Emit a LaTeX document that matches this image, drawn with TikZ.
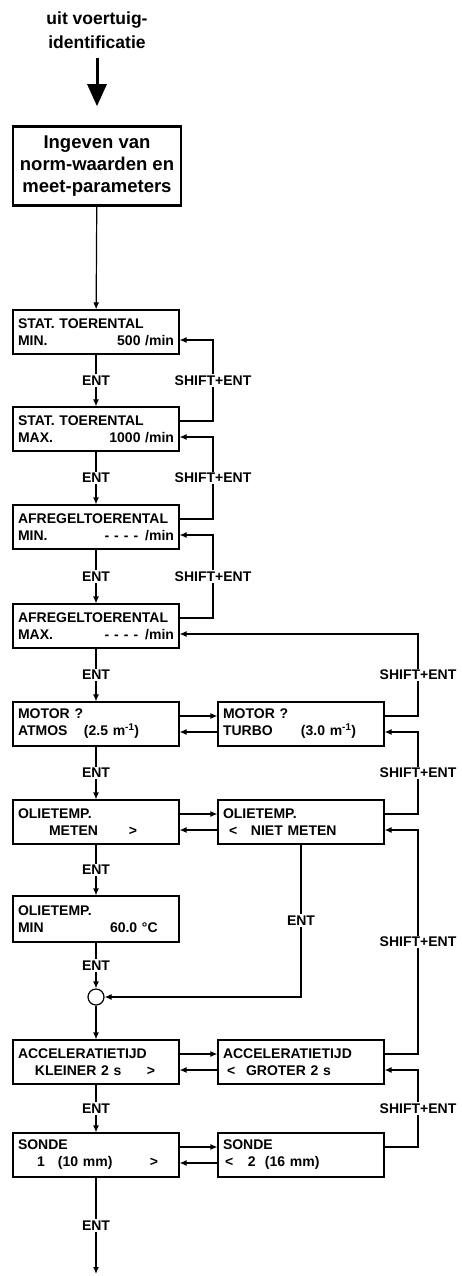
\documentclass[tikz,border=0pt]{standalone}
\usepackage{fontspec}
\setmainfont{Liberation Sans}
\usetikzlibrary{arrows.meta}

\begin{document}
\begin{tikzpicture}[x=1pt,y=-1pt,line width=1.2pt,>={Latex[length=7pt,width=6pt]},
  font=\fontsize{14}{17}\selectfont\bfseries,
  scherm/.style={draw,minimum width=166pt,minimum height=44pt,text width=156pt,
    inner xsep=5pt,align=left},
  etiket/.style={fill=white,inner sep=1.5pt}]
\useasboundingbox (0,0) rectangle (462,1276);
\def\xl{96}
\def\xr{301}
\def\streep{-\hspace{5pt}-\hspace{5pt}-\hspace{5pt}-\hspace{7pt}/min}
% kop en invoer
\node[align=center,font=\fontsize{17.5}{24}\selectfont\bfseries] (bron) at (97,30)
  {uit voertuig-\\identificatie};
\node[draw,line width=2.6pt,minimum width=168pt,minimum height=79pt,align=center,
  font=\fontsize{18.5}{22}\selectfont\bfseries] (invoer) at (97,166)
  {Ingeven van\\norm-waarden en\\meet-parameters};
\draw[line width=3pt,-{Triangle[length=22pt,width=19pt]},shorten <=6pt,shorten >=19pt]
  (bron) -- (invoer);
% linker kolom
\node[scherm] (statmin) at (\xl,332) {STAT. TOERENTAL\\MIN.\hfill 500 /min\hspace*{3pt}};
\node[scherm] (statmax) at (\xl,429) {STAT. TOERENTAL\\MAX.\hfill 1000 /min\hspace*{3pt}};
\node[scherm] (afrmin) at (\xl,527) {AFREGELTOERENTAL\\MIN.\hfill \streep};
\node[scherm] (afrmax) at (\xl,626) {AFREGELTOERENTAL\\MAX.\hfill \streep};
\node[scherm] (motor1) at (\xl,724) {MOTOR ?\\\makebox[66pt][l]{ATMOS}(2.5 m\textsuperscript{-1})};
\node[scherm] (olie1) at (\xl,822) {OLIETEMP.\\\hspace*{31pt}\makebox[80pt][l]{METEN}>};
\node[scherm,minimum height=46pt] (oliemin) at (\xl,919) {OLIETEMP.\\\makebox[92pt][l]{MIN}60.0 °C};
\node[draw,circle,minimum size=16pt,inner sep=0pt] (knoop) at (\xl,997) {};
\node[scherm] (accel1) at (\xl,1062) {ACCELERATIETIJD\\\hspace*{17pt}\makebox[112pt][l]{KLEINER 2 s}>};
\node[scherm] (sonde1) at (\xl,1155) {SONDE\\\hspace*{19pt}\makebox[21pt][l]{1}\makebox[92pt][l]{(10 mm)}>};
\coordinate (einde) at (\xl,1274);
% rechter kolom
\node[scherm] (motor2) at (\xr,724) {MOTOR ?\\\makebox[78pt][l]{TURBO}(3.0 m\textsuperscript{-1})};
\node[scherm] (olie2) at (\xr,822) {OLIETEMP.\\\hspace*{6pt}\makebox[22pt][l]{<}NIET METEN};
\node[scherm] (accel2) at (\xr,1062) {ACCELERATIETIJD\\\hspace*{4pt}\makebox[19pt][l]{<}GROTER 2 s};
\node[scherm] (sonde2) at (\xr,1155) {SONDE\\\hspace*{2pt}\makebox[23pt][l]{<}\makebox[17pt][l]{2}(16 mm)};
% terugloop lijnen
\coordinate (terug1) at (213,0);
\coordinate (terug2) at (418,0);
% ENT naar beneden
\draw[->] (invoer) -- (statmin);
\foreach \a/\b in {statmin/statmax,statmax/afrmin,afrmin/afrmax,afrmax/motor1,
  motor1/olie1,olie1/oliemin,oliemin/knoop,accel1/sonde1}
  \draw[->] (\a) -- node[etiket]{ENT} (\b);
\draw[->] (knoop) -- (accel1);
\draw[->] (sonde1) -- node[etiket]{ENT} (einde);
\draw[->] (olie2) |- node[pos=.25,etiket]{ENT} (knoop);
% heen en terug tussen de kolommen
\foreach \a/\b in {motor1/motor2,olie1/olie2,accel1/accel2,sonde1/sonde2}{
  \draw[->] ([yshift=8pt]\a.east) -- ([yshift=8pt]\b.west);
  \draw[->] ([yshift=-8pt]\b.west) -- ([yshift=-8pt]\a.east);
}
% SHIFT+ENT terug
\foreach \a/\b in {statmax/statmin,afrmin/statmax,afrmax/afrmin}{
  \coordinate (uit) at ([yshift=8pt]\a.east);
  \draw[->] (uit) -- (uit -| terug1) |- node[pos=.25,etiket]{SHIFT+ENT} ([yshift=-8pt]\b.east);
}
\foreach \a/\b in {motor2/afrmax,olie2/motor2,accel2/olie2,sonde2/accel2}{
  \coordinate (uit) at ([yshift=8pt]\a.east);
  \draw[->] (uit) -- (uit -| terug2) |- node[pos=.25,etiket]{SHIFT+ENT} ([yshift=-8pt]\b.east);
}
\end{tikzpicture}
\end{document}
